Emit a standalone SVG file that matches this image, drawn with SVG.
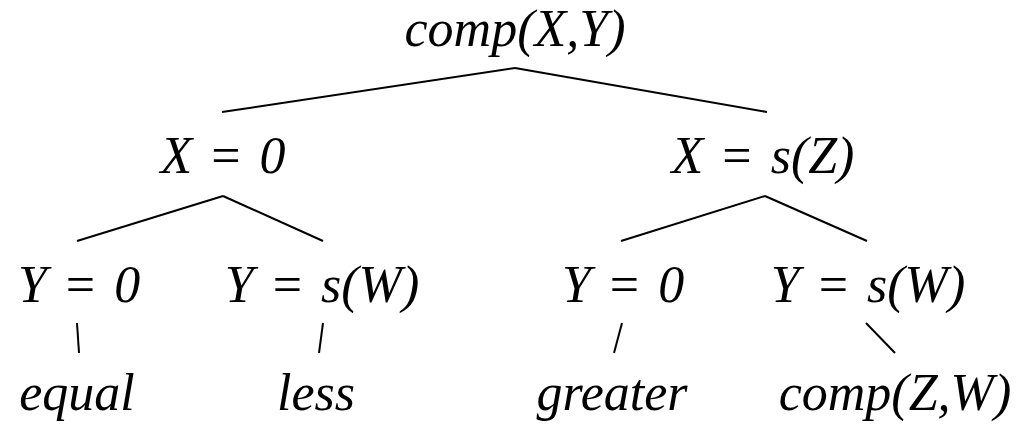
<svg xmlns="http://www.w3.org/2000/svg" width="1016" height="424" viewBox="0 0 1016 424">
<style>
text{font-family:"Liberation Serif","Times New Roman",serif;font-style:italic;font-size:52px;fill:#000;text-anchor:middle}
text.eqn{word-spacing:6px}
.eq{font-style:normal}
line{stroke:#000;stroke-width:2;stroke-linecap:butt}
</style>
<rect width="1016" height="424" fill="#fff"/>
<g id="connectors">
<line x1="222" y1="112" x2="515" y2="68"/>
<line x1="515" y1="68" x2="767" y2="112"/>
<line x1="77" y1="241" x2="223" y2="196"/>
<line x1="223" y1="196" x2="323" y2="241"/>
<line x1="621" y1="241" x2="765" y2="196"/>
<line x1="765" y1="196" x2="867" y2="241"/>
<line x1="77" y1="323" x2="79" y2="353"/>
<line x1="323" y1="323" x2="319" y2="353"/>
<line x1="622" y1="323" x2="614" y2="353"/>
<line x1="866" y1="323" x2="895" y2="353"/>
</g>
<g id="root"><text x="515" y="46">comp(X,Y)</text></g>
<g id="x0"><text class="eqn" x="223" y="173">X <tspan class="eq">=</tspan> 0</text></g>
<g id="xs"><text class="eqn" x="763" y="173">X <tspan class="eq">=</tspan> s(Z)</text></g>
<g id="y0a"><text class="eqn" x="79" y="302">Y <tspan class="eq">=</tspan> 0</text></g>
<g id="ysa"><text class="eqn" x="322" y="302">Y <tspan class="eq">=</tspan> s(W)</text></g>
<g id="y0b"><text class="eqn" x="623" y="302">Y <tspan class="eq">=</tspan> 0</text></g>
<g id="ysb"><text class="eqn" x="868" y="302">Y <tspan class="eq">=</tspan> s(W)</text></g>
<g id="equal"><text x="77" y="410">equal</text></g>
<g id="less"><text x="316" y="410">less</text></g>
<g id="greater"><text x="612" y="410">greater</text></g>
<g id="compzw"><text x="895" y="410">comp(Z,W)</text></g>
</svg>
